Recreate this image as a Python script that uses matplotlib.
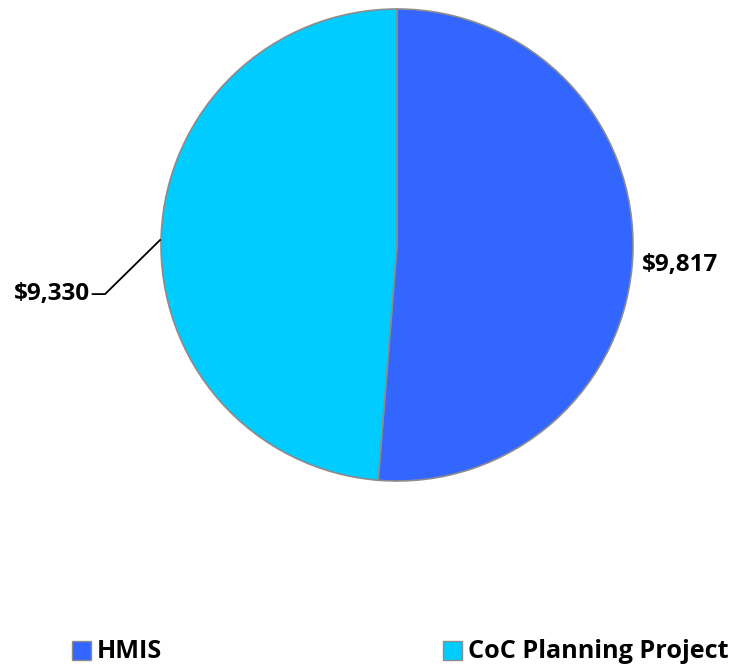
import matplotlib.pyplot as plt
from matplotlib.patches import Rectangle

labels = ["HMIS", "CoC Planning Project"]
values = [9817, 9330]
colors = ["#3366FF", "#00CCFF"]

plt.rcParams['font.family'] = ['Open Sans', 'DejaVu Sans']

fig = plt.figure(figsize=(7.33, 6.68), dpi=100)
ax = fig.add_axes([161 / 733, 187 / 668, 472 / 733, 472 / 668])
wedges, _ = ax.pie(values, colors=colors, startangle=90, counterclock=False,
                   radius=1, wedgeprops=dict(edgecolor="#8c8c8c", linewidth=1.2))
ax.set_xlim(-1, 1)
ax.set_ylim(-1, 1)
ax.axis("off")

# value labels
ax.text(1.20, -0.085, "${:,}".format(values[0]), ha="center", va="center",
        fontsize=17.5, fontweight="bold", clip_on=False)
ax.plot([-1.004, -1.237, -1.29], [0.021, -0.208, -0.208], color="black",
        lw=1.3, clip_on=False)
ax.text(-1.30, -0.208, "${:,}".format(values[1]), ha="right", va="center",
        fontsize=17.5, fontweight="bold", clip_on=False)

# legend
xs = [72, 443]
for x, lab, col in zip(xs, labels, colors):
    fig.patches.append(Rectangle((x / 733, 8 / 668), 19 / 733, 19 / 668,
                                 facecolor=col, edgecolor="#8c8c8c", lw=1,
                                 transform=fig.transFigure, figure=fig))
    fig.text((x + 25) / 733, 17 / 668, lab, ha="left", va="center",
             fontsize=18.2, fontweight="bold")

fig.savefig("out.png", dpi=100)
